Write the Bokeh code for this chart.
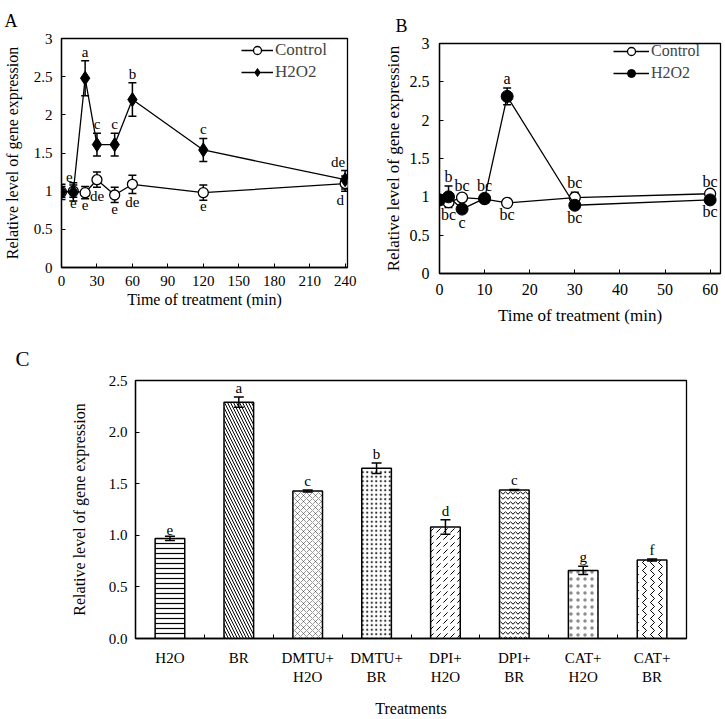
from bokeh.plotting import figure
from bokeh.layouts import column, row
from bokeh.models import (Whisker, TeeHead, ColumnDataSource, FixedTicker, Range1d,
                          Legend, LegendItem, NumeralTickFormatter, Spacer)
from bokeh.embed import file_html
from bokeh.resources import INLINE
from bokeh.core.properties import value

FONT = "Liberation Serif"

# ---------------- Panel A data ----------------
a_time = [0, 10, 20, 30, 45, 60, 120, 240]
a_ctrl = [0.99, 1.00, 0.98, 1.15, 0.95, 1.09, 0.98, 1.10]
a_ctrl_err = [0.07, 0.08, 0.08, 0.10, 0.10, 0.12, 0.10, 0.10]
a_h2o2 = [0.99, 0.99, 2.48, 1.61, 1.61, 2.20, 1.54, 1.15]
a_h2o2_err = [0.10, 0.12, 0.23, 0.15, 0.15, 0.22, 0.15, 0.12]
a_ctrl_letters = ["", "e", "e", "de", "e", "de", "e", "d"]      # below points
a_h2o2_letters = ["", "e", "a", "c", "c", "b", "c", "de"]       # above points
a_xticks = [0, 30, 60, 90, 120, 150, 180, 210, 240]
yticks_ab = [0, 0.5, 1, 1.5, 2, 2.5, 3]

# ---------------- Panel B data ----------------
b_time = [0, 2, 5, 10, 15, 30, 60]
b_ctrl = [0.96, 0.93, 0.99, 0.97, 0.92, 0.99, 1.04]
b_ctrl_err = [0.03, 0.04, 0.03, 0.03, 0.03, 0.07, 0.03]
b_h2o2 = [0.96, 1.00, 0.84, 0.98, 2.31, 0.89, 0.96]
b_h2o2_err = [0.04, 0.14, 0.05, 0.05, 0.11, 0.04, 0.03]
b_ctrl_above = ["", "", "bc", "", "", "bc", "bc"]
b_ctrl_below = ["", "bc", "", "", "bc", "", ""]
b_h2o2_above = ["", "b", "", "bc", "a", "", ""]
b_h2o2_below = ["", "", "c", "", "", "bc", "bc"]
b_xticks = [0, 10, 20, 30, 40, 50, 60]

# ---------------- Panel C data ----------------
c_labels = ["H2O", "BR", "DMTU+\nH2O", "DMTU+\nBR", "DPI+\nH2O", "DPI+\nBR", "CAT+\nH2O", "CAT+\nBR"]
c_values = [0.97, 2.29, 1.43, 1.65, 1.08, 1.44, 0.66, 0.76]
c_err = [0.02, 0.05, 0.01, 0.05, 0.07, 0.005, 0.04, 0.01]
c_letters = ["e", "a", "c", "b", "d", "c", "g", "f"]
c_yticks = [0, 0.5, 1.0, 1.5, 2.0, 2.5]

# bar fill styles
c_hatch = ["horizontal_line", "left_diagonal_line", "diagonal_cross", "dot",
           "right_diagonal_dash", "horizontal_wave", "dot", "vertical_wave"]
c_hatch_scale = [5, 6, 6, 4.5, 7, 5, 7, 8]
c_hatch_weight = [1.2, 1.0, 0.5, 0.6, 1.0, 1.0, 0.1, 1.0]
c_hatch_alpha = [1, 1, 0.8, 0.8, 1, 1, 0.45, 1]


def style(p, tick_size, label_size, title_size, title_offset, title_standoff):
    p.outline_line_color = "black"
    p.outline_line_width = 1.3
    p.xgrid.visible = False
    p.ygrid.visible = False
    p.background_fill_color = "white"
    p.border_fill_color = "white"
    for ax in p.axis:
        ax.axis_line_color = "black"
        ax.axis_line_width = 1.3
        ax.major_tick_in = 4
        ax.major_tick_out = 0
        ax.major_tick_line_color = "black"
        ax.minor_tick_in = 0
        ax.minor_tick_out = 0
        ax.major_label_text_font = FONT
        ax.major_label_text_font_size = f"{tick_size}px"
        ax.major_label_text_color = "black"
        ax.axis_label_text_font = FONT
        ax.axis_label_text_font_size = f"{label_size}px"
        ax.axis_label_text_font_style = "normal"
        ax.axis_label_text_color = "black"
    p.title.text_font = FONT
    p.title.text_font_size = f"{title_size}px"
    p.title.text_font_style = "normal"
    p.title.text_color = "black"
    p.title.align = "left"
    p.title.offset = title_offset
    p.title.standoff = title_standoff


def add_letters(p, xs, ys, errs, letters, above, size="14px", xoff=None):
    if xoff is None:
        xoff = [0] * len(xs)
    if above:
        yy = [y + e for y, e in zip(ys, errs)]
        src = ColumnDataSource(dict(x=xs, y=yy, t=letters, xo=xoff))
        p.text(x="x", y="y", text="t", source=src, text_font=value(FONT),
               text_font_size=size, text_align="center", text_baseline="bottom",
               x_offset="xo", y_offset=-1, text_color="black")
    else:
        yy = [y - e for y, e in zip(ys, errs)]
        src = ColumnDataSource(dict(x=xs, y=yy, t=letters, xo=xoff))
        p.text(x="x", y="y", text="t", source=src, text_font=value(FONT),
               text_font_size=size, text_align="center", text_baseline="top",
               x_offset="xo", y_offset=1, text_color="black")


def add_whisker(p, xs, ys, errs, level="underlay", head=8):
    src = ColumnDataSource(dict(base=xs,
                                upper=[y + e for y, e in zip(ys, errs)],
                                lower=[y - e for y, e in zip(ys, errs)]))
    w = Whisker(base="base", upper="upper", lower="lower", source=src,
                line_color="black", line_width=1.5,
                upper_head=TeeHead(size=head, line_color="black", line_width=1.5),
                lower_head=TeeHead(size=head, line_color="black", line_width=1.5),
                level=level)
    p.add_layout(w)


ROW_H = 330
B_SHIFT = 5

# ================= Panel A =================
pa = figure(width=368, height=ROW_H, output_backend="svg", toolbar_location=None,
            x_range=Range1d(0, 242), y_range=Range1d(0, 3), title="A",
            min_border_left=60, min_border_right=21, min_border_top=37,
            min_border_bottom=ROW_H - 267)
pa.xaxis.axis_label = "Time of treatment (min)"
pa.yaxis.axis_label = "Relative level of gene expression"
pa.xaxis.ticker = FixedTicker(ticks=a_xticks)
pa.yaxis.ticker = FixedTicker(ticks=yticks_ab)
pa.yaxis.formatter = NumeralTickFormatter(format="0.[0]")
style(pa, 15, 16, 18, -57, 16)
pa.xaxis.major_label_standoff = 8
pa.xaxis.axis_label_standoff = 2
pa.yaxis.major_label_standoff = 9
pa.yaxis.axis_label_standoff = 10

add_whisker(pa, a_time, a_ctrl, a_ctrl_err)
add_whisker(pa, a_time, a_h2o2, a_h2o2_err)
ca_line = pa.line(a_time, a_ctrl, line_color="black", line_width=1.3)
ca_pts = pa.scatter(a_time, a_ctrl, marker="circle", size=10, fill_color="white",
                    line_color="black", line_width=1.3)
ha_line = pa.line(a_time, a_h2o2, line_color="black", line_width=1.3)
ha_pts = pa.scatter(a_time, a_h2o2, marker="diamond", size=14, fill_color="black",
                    line_color="black")
add_letters(pa, a_time, a_h2o2, a_h2o2_err, a_h2o2_letters, True, size="15px",
            xoff=[0, -4, 0, 0, 0, 0, 0, -7])
add_letters(pa, a_time, a_ctrl, a_ctrl_err, a_ctrl_letters, False, size="15px",
            xoff=[0, 0, 0, 0, 0, 0, 0, -5])
leg_a = Legend(items=[LegendItem(label="Control", renderers=[ca_line, ca_pts]),
                      LegendItem(label="H2O2", renderers=[ha_line, ha_pts])],
               location=(180, 185), border_line_color=None, background_fill_alpha=0,
               label_text_font=FONT, label_text_font_size="17px", glyph_width=32,
               spacing=2, padding=0, margin=0, label_standoff=2, label_height=20,
               glyph_height=20)
pa.add_layout(leg_a)

# ================= Panel B =================
PB_H = ROW_H - B_SHIFT
pb = figure(width=355, height=PB_H, output_backend="svg", toolbar_location=None,
            x_range=Range1d(0, 62.3), y_range=Range1d(0, 3), title="B",
            min_border_left=71, min_border_right=3, min_border_top=42 - B_SHIFT,
            min_border_bottom=PB_H - (273 - B_SHIFT))
pb.xaxis.axis_label = "Time of treatment (min)"
pb.yaxis.axis_label = "Relative level of gene expression"
pb.xaxis.ticker = FixedTicker(ticks=b_xticks)
pb.yaxis.ticker = FixedTicker(ticks=yticks_ab)
pb.yaxis.formatter = NumeralTickFormatter(format="0.[0]")
style(pb, 16, 17, 18, -44, 16)
pb.xaxis.major_label_standoff = 10
pb.xaxis.axis_label_standoff = 8
pb.yaxis.major_label_standoff = 10
pb.yaxis.axis_label_standoff = 4

add_whisker(pb, b_time, b_ctrl, b_ctrl_err)
add_whisker(pb, b_time, b_h2o2, b_h2o2_err)
cb_line = pb.line(b_time, b_ctrl, line_color="black", line_width=1.3)
cb_pts = pb.scatter(b_time, b_ctrl, marker="circle", size=11, fill_color="white",
                    line_color="black", line_width=1.3)
hb_line = pb.line(b_time, b_h2o2, line_color="black", line_width=1.3)
hb_pts = pb.scatter(b_time, b_h2o2, marker="circle", size=12, fill_color="black",
                    line_color="black")
add_letters(pb, b_time, b_h2o2, b_h2o2_err, b_h2o2_above, True, size="16px")
add_letters(pb, b_time, b_h2o2, b_h2o2_err, b_h2o2_below, False, size="16px")
add_letters(pb, b_time, b_ctrl, b_ctrl_err, b_ctrl_above, True, size="16px")
add_letters(pb, b_time, b_ctrl, b_ctrl_err, b_ctrl_below, False, size="16px")
leg_b = Legend(items=[LegendItem(label="Control", renderers=[cb_line, cb_pts]),
                      LegendItem(label="H2O2", renderers=[hb_line, hb_pts])],
               location=(174, 190), border_line_color=None, background_fill_alpha=0,
               label_text_font=FONT, label_text_font_size="16px", glyph_width=36,
               spacing=2, padding=0, margin=0, label_standoff=2, label_height=20,
               glyph_height=20)
pb.add_layout(leg_b)

# ================= Panel C =================
n = len(c_labels)
c_x = list(range(1, n + 1))
C_H = 389
pc = figure(width=723, height=C_H, output_backend="svg", toolbar_location=None,
            x_range=Range1d(0.5, n + 0.5), y_range=Range1d(0, 2.5), title="C",
            min_border_left=135, min_border_right=37, min_border_top=380 - ROW_H,
            min_border_bottom=C_H - (638 - ROW_H))
pc.xaxis.axis_label = "Treatments"
pc.yaxis.axis_label = "Relative level of gene expression"
pc.xaxis.ticker = FixedTicker(ticks=c_x, minor_ticks=[i + 0.5 for i in c_x[:-1]])
pc.xaxis.major_label_overrides = {i: lab for i, lab in zip(c_x, c_labels)}
pc.yaxis.ticker = FixedTicker(ticks=c_yticks)
pc.yaxis.formatter = NumeralTickFormatter(format="0.0")
style(pc, 15, 16, 21, -120, 19)
pc.xaxis.major_tick_in = 0
pc.xaxis.minor_tick_in = 4
pc.xaxis.minor_tick_line_color = "black"
pc.xaxis.major_label_standoff = 11
pc.xaxis.axis_label_standoff = 12
pc.yaxis.major_label_standoff = 8
pc.yaxis.axis_label_standoff = 18

csrc = ColumnDataSource(dict(x=c_x, top=c_values, hatch=c_hatch,
                             hs=c_hatch_scale, hw=c_hatch_weight, ha=c_hatch_alpha))
pc.vbar(x="x", top="top", width=0.43, bottom=0, source=csrc, fill_color="white",
        line_color="black", line_width=1.5, hatch_pattern="hatch", hatch_scale="hs",
        hatch_weight="hw", hatch_alpha="ha", hatch_color="black")
add_whisker(pc, c_x, c_values, c_err, level="annotation", head=10)
add_letters(pc, c_x, c_values, c_err, c_letters, True, size="15px")

layout = column(row(pa, column(Spacer(width=355, height=B_SHIFT), pb)), pc)
open("out.html", "w").write(file_html(layout, INLINE))
